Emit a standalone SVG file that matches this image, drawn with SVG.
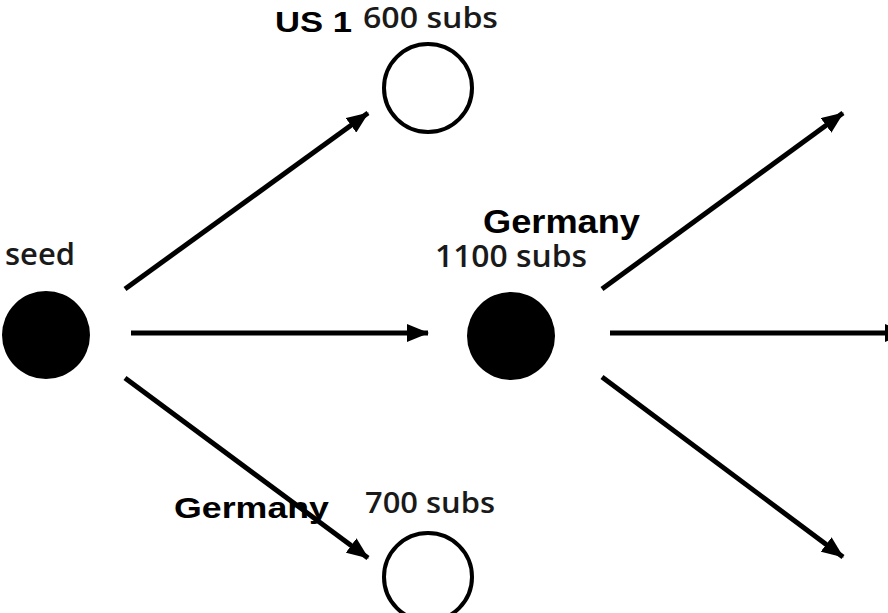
<svg xmlns="http://www.w3.org/2000/svg" width="888" height="613" viewBox="0 0 888 613">
<defs>
<style>
.bold{font-family:"Liberation Sans",Arial,sans-serif;font-weight:bold;fill:#000}
.subs{font-family:"Open Sans","Noto Sans",sans-serif;font-weight:600;fill:#1a1a1a}
.filled{fill:#000}
.hollow{fill:#fff;stroke:#000;stroke-width:4}
.edge{stroke:#000;stroke-width:5;fill:none;marker-end:url(#arr)}
</style>
<marker id="arr" markerUnits="userSpaceOnUse" markerWidth="22" markerHeight="18" refX="21" refY="9" orient="auto">
<path d="M0,0 L22,9 L0,18 z" fill="#000"/>
</marker>
</defs>
<rect width="888" height="613" fill="#fff"/>
<g id="seed">
<circle class="filled" cx="46" cy="335" r="44"/>
<text class="subs" x="5" y="265" font-size="31" textLength="70" lengthAdjust="spacingAndGlyphs">seed</text>
</g>
<g id="us1">
<circle class="hollow" cx="428" cy="88" r="44"/>
<text class="bold" x="275" y="32" font-size="29" textLength="77" lengthAdjust="spacingAndGlyphs">US 1</text>
<text class="subs" x="363" y="28" font-size="28" textLength="135" lengthAdjust="spacingAndGlyphs">600 subs</text>
</g>
<g id="germany-mid">
<circle class="filled" cx="511" cy="336" r="44"/>
<text class="bold" x="483" y="233" font-size="34" textLength="157" lengthAdjust="spacingAndGlyphs">Germany</text>
<text class="subs" x="435" y="267" font-size="31" textLength="152" lengthAdjust="spacingAndGlyphs">1100 subs</text>
</g>
<g id="germany-low">
<circle class="hollow" cx="428" cy="577" r="44"/>
<text class="bold" x="174" y="518" font-size="30" textLength="155" lengthAdjust="spacingAndGlyphs">Germany</text>
<text class="subs" x="365" y="513" font-size="29" textLength="130" lengthAdjust="spacingAndGlyphs">700 subs</text>
</g>
<g id="connectors">
<line class="edge" x1="125" y1="289" x2="368" y2="113"/>
<line class="edge" x1="131" y1="333" x2="428" y2="333"/>
<line class="edge" x1="125" y1="378" x2="368" y2="558"/>
<line class="edge" x1="602" y1="289" x2="843" y2="113"/>
<line class="edge" x1="610" y1="333" x2="906" y2="333"/>
<line class="edge" x1="602" y1="377" x2="843" y2="557"/>
</g>
</svg>
